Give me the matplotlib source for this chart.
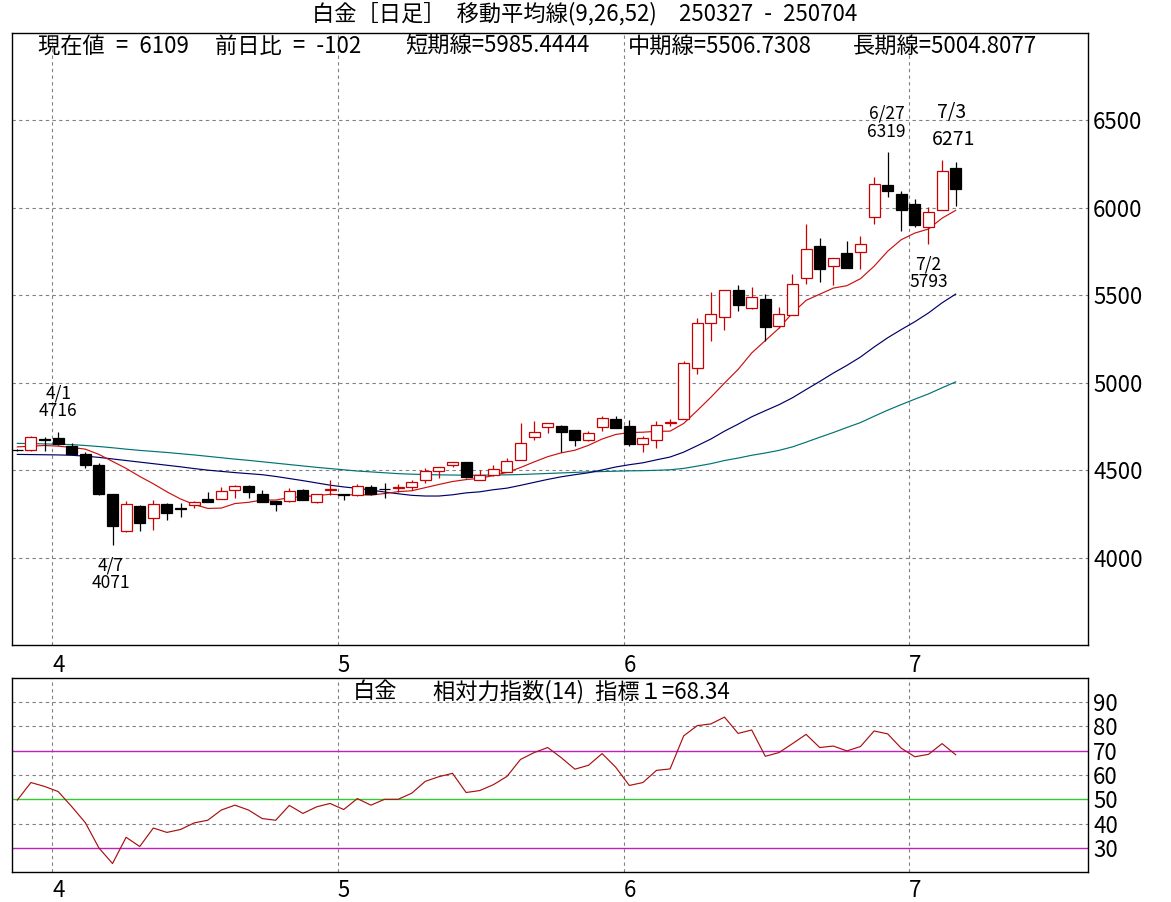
import matplotlib
matplotlib.use("Agg")
import matplotlib.pyplot as plt
import numpy as np

plt.rcParams['font.family'] = ['Noto Sans CJK JP', 'DejaVu Sans']

# ---------------- data ----------------
dates = ["3/27", "3/28", "3/31",
         "4/1", "4/2", "4/3", "4/4", "4/7", "4/8", "4/9", "4/10", "4/11", "4/14", "4/15",
         "4/16", "4/17", "4/18", "4/21", "4/22", "4/23", "4/24", "4/25", "4/28", "4/30",
         "5/1", "5/2", "5/6", "5/7", "5/8", "5/9", "5/12", "5/13", "5/14", "5/15", "5/16",
         "5/19", "5/20", "5/21", "5/22", "5/23", "5/26", "5/27", "5/28", "5/29", "5/30",
         "6/2", "6/3", "6/4", "6/5", "6/6", "6/9", "6/10", "6/11", "6/12", "6/13", "6/16",
         "6/17", "6/18", "6/19", "6/20", "6/23", "6/24", "6/25", "6/26", "6/27", "6/30",
         "7/1", "7/2", "7/3", "7/4"]

opens = [4616, 4614, 4679, 4681, 4637, 4591, 4528, 4362, 4153, 4294,
         4229, 4309, 4282, 4300, 4334, 4334, 4389, 4408, 4366, 4324,
         4324, 4389, 4319, 4387, 4362, 4355, 4401, 4395, 4398, 4401,
         4446, 4494, 4532, 4546, 4446, 4471, 4492, 4557, 4687, 4748,
         4752, 4729, 4675, 4748, 4794, 4750, 4650, 4673, 4771, 4792,
         5087, 5340, 5375, 5531, 5425, 5481, 5327, 5390, 5597, 5780,
         5668, 5740, 5745, 5947, 6128, 6080, 6023, 5889, 5989, 6229]
highs = [4620, 4694, 4687, 4716, 4656, 4605, 4542, 4366, 4322, 4300,
         4328, 4312, 4313, 4324, 4374, 4401, 4414, 4414, 4385, 4326,
         4397, 4393, 4364, 4446, 4366, 4420, 4416, 4424, 4420, 4443,
         4515, 4519, 4546, 4548, 4500, 4528, 4572, 4767, 4780, 4767,
         4761, 4729, 4725, 4809, 4811, 4786, 4698, 4783, 4793, 5123,
         5370, 5520, 5531, 5558, 5548, 5510, 5433, 5620, 5905, 5828,
         5711, 5809, 5840, 6179, 6319, 6099, 6052, 6004, 6271, 6265]
lows = [4608, 4610, 4610, 4645, 4586, 4515, 4358, 4071, 4147, 4153,
        4160, 4214, 4233, 4284, 4318, 4334, 4338, 4340, 4318, 4267,
        4318, 4330, 4313, 4355, 4330, 4350, 4355, 4340, 4376, 4385,
        4427, 4456, 4519, 4456, 4446, 4469, 4488, 4557, 4675, 4710,
        4605, 4639, 4666, 4725, 4742, 4639, 4602, 4626, 4751, 4790,
        5048, 5237, 5302, 5408, 5421, 5238, 5312, 5388, 5562, 5578,
        5556, 5655, 5648, 5908, 6061, 5866, 5893, 5793, 5985, 6013]
closes = [4614, 4687, 4672, 4649, 4591, 4528, 4362, 4181, 4309, 4198,
          4309, 4256, 4280, 4315, 4320, 4378, 4412, 4376, 4318, 4305,
          4382, 4332, 4362, 4390, 4355, 4412, 4362, 4393, 4401, 4431,
          4496, 4519, 4544, 4458, 4473, 4504, 4553, 4658, 4719, 4767,
          4719, 4672, 4710, 4796, 4742, 4649, 4681, 4761, 4775, 5115,
          5340, 5392, 5531, 5442, 5490, 5321, 5392, 5565, 5767, 5652,
          5711, 5658, 5796, 6134, 6095, 5988, 5902, 5975, 6211, 6109]

ma_short = [4633, 4637, 4641, 4637, 4630, 4620, 4590, 4550, 4510, 4464,
            4422, 4376, 4335, 4304, 4281, 4283, 4309, 4316, 4329, 4329,
            4343, 4349, 4354, 4362, 4359, 4359, 4358, 4366, 4377, 4382,
            4400, 4418, 4435, 4446, 4453, 4469, 4487, 4515, 4547, 4577,
            4599, 4614, 4642, 4678, 4704, 4715, 4717, 4722, 4723, 4767,
            4841, 4917, 4998, 5076, 5170, 5241, 5311, 5399, 5471, 5506,
            5541, 5555, 5595, 5666, 5752, 5818, 5856, 5879, 5941, 5985.4444]
ma_mid = [4590, 4589, 4588, 4587, 4585, 4580, 4573, 4564, 4555, 4546,
          4537, 4528, 4519, 4509, 4500, 4493, 4486, 4480, 4474, 4464,
          4452, 4440, 4427, 4414, 4404, 4396, 4386, 4375, 4365, 4356,
          4352, 4352, 4359, 4370, 4376, 4388, 4397, 4413, 4430, 4447,
          4462, 4474, 4485, 4501, 4518, 4531, 4542, 4559, 4575, 4603,
          4640, 4678, 4723, 4763, 4805, 4840, 4874, 4914, 4961, 5007,
          5055, 5099, 5147, 5204, 5257, 5304, 5349, 5399, 5457, 5506.7308]
ma_long = [4653, 4652, 4650, 4648, 4646, 4641, 4635, 4628, 4620, 4613,
           4607, 4601, 4594, 4587, 4579, 4571, 4563, 4556, 4548, 4540,
           4532, 4524, 4516, 4509, 4502, 4495, 4490, 4485, 4480, 4477,
           4475, 4473, 4472, 4471, 4471, 4472, 4473, 4475, 4478, 4481,
           4484, 4487, 4490, 4492, 4494, 4496, 4497, 4499, 4502, 4510,
           4523, 4537, 4555, 4569, 4585, 4598, 4613, 4633, 4660, 4688,
           4715, 4744, 4772, 4808, 4843, 4875, 4906, 4936, 4971, 5004.8077]

rsi = [49.7, 56.9, 55.3, 53.2, 47.0, 40.4, 30.0, 23.6, 34.4, 30.6,
       38.2, 36.4, 37.6, 40.3, 41.4, 45.6, 47.6, 45.6, 42.1, 41.4,
       47.5, 44.2, 46.9, 48.3, 45.8, 50.3, 47.6, 50.0, 50.0, 52.5,
       57.4, 59.3, 60.7, 52.8, 53.6, 56.0, 59.4, 66.4, 69.2, 71.3,
       67.1, 62.4, 64.0, 68.8, 63.2, 55.7, 56.9, 61.9, 62.5, 76.1,
       80.3, 81.0, 83.8, 77.1, 78.5, 67.7, 69.2, 72.9, 76.7, 71.3,
       71.9, 69.9, 71.7, 78.1, 76.9, 71.0, 67.5, 68.5, 72.9, 68.34]

price_ticks = [4000, 4500, 5000, 5500, 6000, 6500]
rsi_ticks = [30, 40, 50, 60, 70, 80, 90]
rsi_grid = [40, 60, 80, 90]
month_labels = ["4", "5", "6", "7"]
title = "白金［日足］ 移動平均線(9,26,52)  250327 - 250704"
# (index of day, which extreme, x offset px, y offset px of value line, y offset of date line, fontsize)
notes = [(3, "high", 0, 21, 39, 12.5),
         (7, "low", -2, -38, -20, 12.5),
         (64, "high", -1, 20.5, 38.5, 12.5),
         (67, "low", 0, -37.5, -20, 12.5),
         (68, "high", 11, 20.5, 47.5, 14)]

SP = "\u2002"  # half-width-like space, as in the reference's bitmap font


def wide(s):
    return s.replace(" ", SP)


# ---------------- figure ----------------
W, H = 1171, 902
fig = plt.figure(figsize=(W / 100, H / 100), dpi=100)


def px_axes(x0, y0, x1, y1):
    return fig.add_axes([x0 / W, 1 - y1 / H, (x1 - x0) / W, (y1 - y0) / H])


ax = px_axes(12.3, 33, 1088, 645)
ax2 = px_axes(12.3, 677.7, 1088, 872.3)

n = len(dates)
x = np.arange(n)
o = np.array(opens, float)
h = np.array(highs, float)
l = np.array(lows, float)
c = np.array(closes, float)
up = c >= o
dn = ~up

RED = "#cc0000"
GRID = "#808080"
DASH = (0, (3, 3))

month_starts = [i for i in range(1, n) if dates[i].split("/")[0] != dates[i - 1].split("/")[0]]
bounds = [i - 0.42 for i in month_starts]
xlim = (-0.37, 78.73)

for a in (ax, ax2):
    a.set_xlim(*xlim)
    for b in bounds:
        a.axvline(b, color=GRID, lw=0.8, ls=DASH, zorder=1)
    for s in a.spines.values():
        s.set_linewidth(1.0)
        s.set_color("black")
    a.yaxis.tick_right()
    a.set_xticks([b + 0.44 for b in bounds])
    a.set_xticklabels(month_labels)
    a.tick_params(axis="both", length=0, labelsize=16)
    a.tick_params(axis="y", pad=3.6)

ax.tick_params(axis="x", pad=6.5)
ax2.tick_params(axis="x", pad=5.0)

# main panel
ax.set_ylim(3500, 7000)
ax.set_yticks(price_ticks)
ax.set_yticklabels([str(t) for t in price_ticks])
for p in price_ticks:
    ax.axhline(p, color=GRID, lw=0.8, ls=DASH, zorder=1)

ax.plot(x, ma_long, color="#007373", lw=0.85, zorder=2)
ax.plot(x, ma_mid, color="#000068", lw=0.85, zorder=2)
ax.plot(x, ma_short, color="#cc1010", lw=0.85, zorder=2)

ax.vlines(x[up], l[up], h[up], color=RED, lw=0.9, zorder=3)
ax.vlines(x[dn], l[dn], h[dn], color="black", lw=0.9, zorder=3)
bw = 0.8
ax.bar(x[up], np.maximum(c - o, 2)[up], bottom=o[up], width=bw,
       facecolor="white", edgecolor=RED, linewidth=0.9, zorder=4)
ax.bar(x[dn], np.maximum(o - c, 2)[dn], bottom=c[dn], width=bw,
       facecolor="black", edgecolor="black", linewidth=0.9, zorder=4)

for idx, kind, dx, dy_val, dy_date, fs in notes:
    val = highs[idx] if kind == "high" else lows[idx]
    ax.annotate(str(val), xy=(idx, val), xytext=(dx, dy_val), textcoords="offset pixels",
                ha="center", va="center", fontsize=fs, zorder=6)
    ax.annotate(dates[idx], xy=(idx, val), xytext=(dx - 2 if idx == 68 else dx, dy_date),
                textcoords="offset pixels", ha="center", va="center", fontsize=fs, zorder=6)

# RSI panel
ax2.set_ylim(20, 100)
ax2.set_yticks(rsi_ticks)
ax2.set_yticklabels([str(t) for t in rsi_ticks])
for g in rsi_grid:
    ax2.axhline(g, color=GRID, lw=0.8, ls=DASH, zorder=1)
ax2.axhline(70, color="#c020c0", lw=1.0, zorder=2)
ax2.axhline(30, color="#c020c0", lw=1.0, zorder=2)
ax2.axhline(50, color="#33cc33", lw=1.0, zorder=2)
ax2.plot(x, rsi, color="#a81010", lw=0.85, zorder=3)

# texts
fig.text(585 / W, 1 - 14 / H, wide(title), ha="center", va="center", fontsize=16)
info = [
    (38, "現在値 = %d" % closes[-1]),
    (215, "前日比 = %d" % (closes[-1] - closes[-2])),
    (405, "短期線=%.4f" % ma_short[-1]),
    (628, "中期線=%.4f" % ma_mid[-1]),
    (853, "長期線=%.4f" % ma_long[-1]),
]
for px, s in info:
    fig.text(px / W, 1 - 46 / H, wide(s), ha="left", va="center", fontsize=16)

fig.text(353 / W, 1 - 692 / H, "白金", ha="left", va="center", fontsize=16)
fig.text(433 / W, 1 - 692 / H, wide("相対力指数(14) 指標１=%.2f" % rsi[-1]),
         ha="left", va="center", fontsize=16)

fig.savefig("out.png", dpi=100, facecolor="white")
